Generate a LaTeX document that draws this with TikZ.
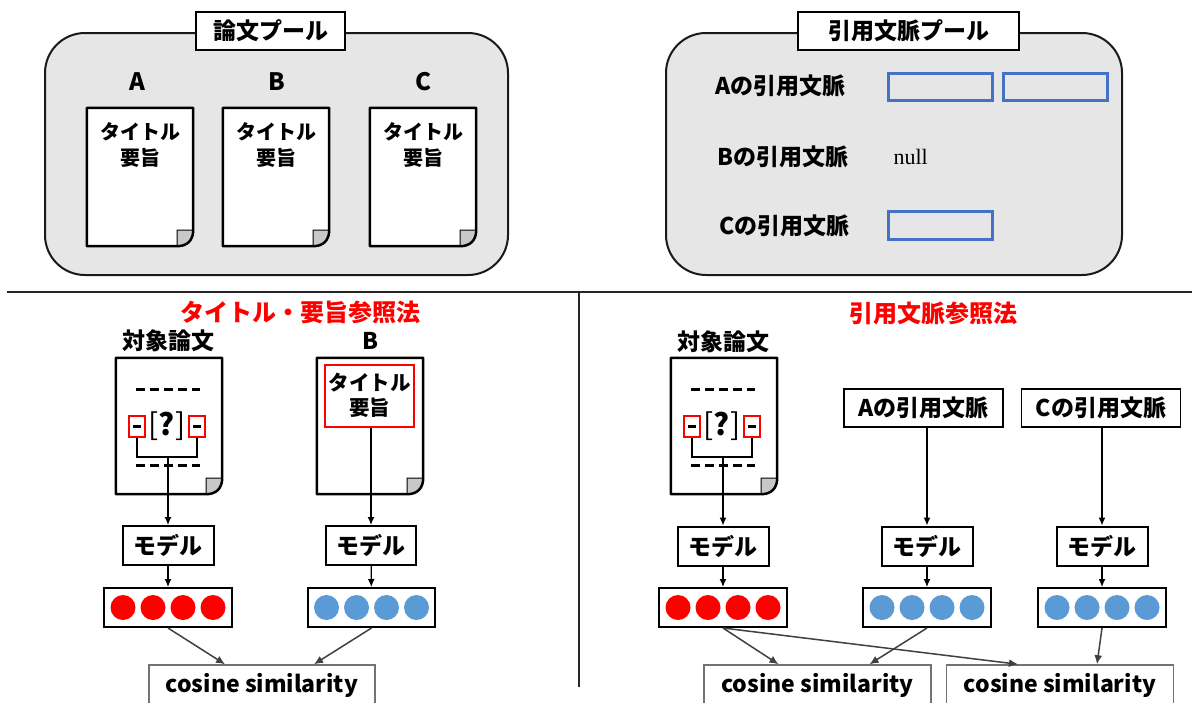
\documentclass[tikz,border=0pt]{standalone}
\usepackage{fontspec}
\setmainfont{Noto Sans CJK JP}
\newfontfamily\myserif{Liberation Serif}
\usetikzlibrary{arrows.meta,calc}
\definecolor{poolgray}{RGB}{231,230,230}
\definecolor{foldgray}{RGB}{200,200,200}
\definecolor{ctxblue}{RGB}{68,114,196}
\definecolor{vecblue}{RGB}{91,155,213}
\definecolor{arrgray}{RGB}{64,64,64}
\newcommand\fsz[2]{\fontsize{#1}{#2}\selectfont}
\newcommand\docshape[1]{%
 \fill[white] (#1.north west) -- (#1.north east) -- ([yshift=16pt]#1.south east) .. controls ([yshift=6pt]#1.south east) and ([xshift=-6pt]#1.south east) .. ([xshift=-16pt]#1.south east) -- (#1.south west) -- cycle;
 \filldraw[foldline] ([xshift=-16pt]#1.south east) -- ([xshift=-16pt,yshift=16pt]#1.south east) -- ([yshift=16pt]#1.south east) .. controls ([yshift=6pt]#1.south east) and ([xshift=-6pt]#1.south east) .. ([xshift=-16pt]#1.south east) -- cycle;
 \draw[docline] (#1.north west) -- (#1.north east) -- ([yshift=16pt]#1.south east) .. controls ([yshift=6pt]#1.south east) and ([xshift=-6pt]#1.south east) .. ([xshift=-16pt]#1.south east) -- (#1.south west) -- cycle;
}
\newcommand\vecdots[2]{%
 \foreach \dx [count=\i] in {-45,-15,15,45} \node[dot, fill=#2] (#1d\i) at ([xshift=\dx pt]#1.center) {};
}
\tikzset{
 pool/.style={draw=black!90, line width=2pt, fill=poolgray, rounded corners=40pt},
 ptitle/.style={draw=black, line width=1.5pt, fill=white, font=\fsz{23}{26}\bfseries, minimum height=38pt, inner sep=0pt},
 docbox/.style={inner sep=0pt},
 docline/.style={draw=black, line width=2.5pt, line join=round},
 foldline/.style={draw=black, line width=1pt, fill=foldgray},
 doctext/.style={font=\fsz{20}{26}\bfseries, align=center},
 biglabel/.style={font=\fsz{24}{28}\bfseries},
 ctxlabel/.style={font=\fsz{23}{26}\bfseries, anchor=west},
 ctxbox/.style={draw=ctxblue, line width=3pt, minimum width=104pt, minimum height=27pt, inner sep=0pt},
 redtitle/.style={text=red, font=\fsz{24}{26}\bfseries},
 headlabel/.style={font=\fsz{23}{26}\bfseries},
 modelbox/.style={draw=black, line width=2pt, minimum width=91pt, minimum height=39pt, inner sep=0pt, font=\fsz{23}{26}\bfseries},
 vecbox/.style={draw=black, line width=2pt, minimum width=128pt, minimum height=39pt, inner sep=0pt},
 dot/.style={circle, inner sep=0pt, minimum size=25pt},
 cosbox/.style={draw=black!55, line width=1.5pt, fill=white, minimum width=227pt, minimum height=40pt, inner sep=0pt, font=\fsz{23}{26}\bfseries},
 ctxnode/.style={draw=black, line width=1.5pt, minimum width=159pt, minimum height=38pt, inner sep=0pt, font=\fsz{23}{26}\bfseries},
 arr/.style={draw=black, line width=1.3pt, -{Latex[length=8pt,width=7pt]}},
 garr/.style={draw=arrgray, line width=1.5pt, -{Latex[length=9pt,width=8pt]}},
 redsq/.style={draw=red, line width=2.5pt, minimum width=16pt, minimum height=21pt, inner sep=0pt},
 redbig/.style={draw=red, line width=2.5pt, minimum width=89pt, minimum height=62pt, inner sep=0pt},
 dashln/.style={line width=3pt, dash pattern=on 9pt off 5pt},
 bracketln/.style={draw=black, line width=1.3pt},
 sepln/.style={draw=black!85, line width=2pt},
 qmark/.style={font=\fsz{30}{32}, inner sep=0pt},
}
\begin{document}
\begin{tikzpicture}[x=1pt,y=-1pt]
\useasboundingbox (0,0) rectangle (1196,702);
% ---------------- top left pool
\draw[pool] (45,33) rectangle (508,275);
\node[ptitle, minimum width=149pt] (pt1) at (270.5,31) {論文プール};
\node[biglabel] (lA) at (137,82) {A};
\node[biglabel] (lB) at (277,82) {B};
\node[biglabel] (lC) at (423,82) {C};
\node[docbox, minimum width=106pt, minimum height=138pt] (dA) at (140,177) {};
\node[docbox, minimum width=106pt, minimum height=138pt] (dB) at (276,177) {};
\node[docbox, minimum width=106pt, minimum height=138pt] (dC) at (423,177) {};
\docshape{dA}\docshape{dB}\docshape{dC}
\node[doctext] (tA) at (140,145) {タイトル\\要旨};
\node[doctext] (tB) at (276,145) {タイトル\\要旨};
\node[doctext] (tC) at (423,145) {タイトル\\要旨};
% ---------------- top right pool
\draw[pool] (666,33) rectangle (1122,275);
\node[ptitle, minimum width=221pt] (pt2) at (908.5,31) {引用文脈プール};
\node[ctxlabel] (cA) at (712,86) {Aの引用文脈};
\node[ctxlabel] (cB) at (714,157) {Bの引用文脈};
\node[ctxlabel] (cC) at (716,226) {Cの引用文脈};
\node[ctxbox] (bA1) at (940,86.5) {};
\node[ctxbox] (bA2) at (1055,86.5) {};
\node[ctxbox, minimum height=28pt] (bC1) at (940,225) {};
\node[anchor=west, font=\myserif\fsz{22}{26}] (nl) at (890,157) {null};
% ---------------- separators
\coordinate (s1) at (7,292);
\coordinate (s2) at (1192,292);
\coordinate (s3) at (579,292);
\coordinate (s4) at (579,687);
\draw[sepln] (s1) -- (s2);
\draw[sepln] (s3) -- (s4);
% ---------------- bottom left
\node[redtitle] (rt1) at (300,312) {タイトル・要旨参照法};
\node[headlabel] (h1) at (168,341) {対象論文};
\node[headlabel] (h2) at (370,341) {B};
\node[docbox, minimum width=106pt, minimum height=136pt] (qL) at (169,426) {};
\node[docbox, minimum width=106pt, minimum height=136pt] (bL) at (370,426) {};
\docshape{qL}\docshape{bL}
\draw[dashln] (136,389) -- (200,389);
\draw[dashln] (136,465) -- (200,465);
\node[qmark] (qm1) at (167,426) {[\textbf{?}]};
\node[redsq] (lq1) at (137,426.5) {};
\node[redsq] (rq1) at (197,426.5) {};
\draw[line width=2.5pt] ([xshift=-4pt]lq1.center) -- ([xshift=4pt]lq1.center);
\draw[line width=2.5pt] ([xshift=-4pt]rq1.center) -- ([xshift=4pt]rq1.center);
\coordinate (j1) at (168,457);
\draw[bracketln] (lq1.south) |- (j1) -| (rq1.south);
\node[redbig] (rb1) at (369.5,396) {};
\node[doctext, font=\fsz{20.5}{25}\bfseries] (rbt) at (369.5,395.5) {タイトル\\要旨};
\node[modelbox] (m1) at (168,545.5) {モデル};
\node[modelbox, minimum width=90pt] (m2) at (371,545.5) {モデル};
\node[vecbox] (v1) at (168,607.5) {};
\node[vecbox, minimum width=127pt] (v2) at (371.5,607.5) {};
\vecdots{v1}{red}
\vecdots{v2}{vecblue}
\node[cosbox, minimum width=226pt] (cs1) at (262,685) {cosine similarity};
\draw[arr] (j1) -- (m1.north);
\draw[arr] (rb1.south -| m2.north) -- (m2.north);
\draw[arr] (m1) -- (v1);
\draw[arr] (m2) -- (v2);
\draw[garr] (v1.south) -- ([xshift=-37pt]cs1.north);
\draw[garr] (v2.south) -- ([xshift=52pt]cs1.north);
% ---------------- bottom right
\node[redtitle] (rt2) at (933,313) {引用文脈参照法};
\node[headlabel] (h3) at (723,342) {対象論文};
\node[docbox, minimum width=106pt, minimum height=136pt] (qR) at (724,426) {};
\docshape{qR}
\draw[dashln] (691,389) -- (755,389);
\draw[dashln] (691,465) -- (755,465);
\node[qmark] (qm2) at (722,426) {[\textbf{?}]};
\node[redsq] (lq2) at (692,426.5) {};
\node[redsq] (rq2) at (752,426.5) {};
\draw[line width=2.5pt] ([xshift=-4pt]lq2.center) -- ([xshift=4pt]lq2.center);
\draw[line width=2.5pt] ([xshift=-4pt]rq2.center) -- ([xshift=4pt]rq2.center);
\coordinate (j2) at (723,457);
\draw[bracketln] (lq2.south) |- (j2) -| (rq2.south);
\node[ctxnode] (xA) at (923.5,408) {Aの引用文脈};
\node[ctxnode] (xC) at (1101,408) {Cの引用文脈};
\node[modelbox] (m3) at (723,546) {モデル};
\node[modelbox] (m4) at (927,546) {モデル};
\node[modelbox] (m5) at (1102,546) {モデル};
\node[vecbox] (v3) at (723,607.5) {};
\node[vecbox] (v4) at (927,607.5) {};
\node[vecbox] (v5) at (1102,607.5) {};
\vecdots{v3}{red}
\vecdots{v4}{vecblue}
\vecdots{v5}{vecblue}
\node[cosbox] (cs2) at (817.5,685) {cosine similarity};
\node[cosbox] (cs3) at (1060,685) {cosine similarity};
\draw[arr] (j2) -- (m3.north);
\draw[arr] (xA.south -| m4.north) -- (m4.north);
\draw[arr] (xC.south -| m5.north) -- (m5.north);
\draw[arr] (m3) -- (v3);
\draw[arr] (m4) -- (v4);
\draw[arr] (m5) -- (v5);
\draw[garr] (v3.south) -- ([xshift=-39pt]cs2.north);
\draw[garr] (v4.south) -- ([xshift=52pt]cs2.north);
\draw[garr] (v3.south) -- ([xshift=-42pt]cs3.north);
\draw[garr] (v5.south) -- ([xshift=37pt]cs3.north);
\end{tikzpicture}
\end{document}
